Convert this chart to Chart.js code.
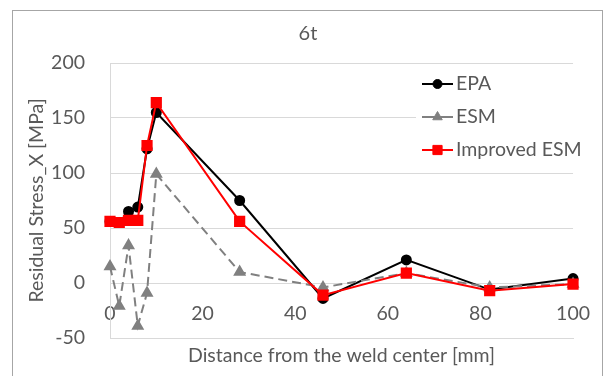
<!DOCTYPE html>
<html>
<head>
<meta charset="utf-8">
<script src="https://cdn.jsdelivr.net/npm/chart.js@4.4.1/dist/chart.umd.min.js"></script>
<style>
  html, body { margin: 0; padding: 0; background: #fff; }
  canvas { display: block; }
</style>
</head>
<body>
<canvas id="stressChart" width="603" height="376"></canvas>
<script>
// Data
const distances = [0, 2, 4, 6, 8, 10, 28, 46, 64, 82, 100];
const epaValues = [56, 55, 65, 69, 122, 155, 75, -14, 21, -6, 4];
const esmValues = [15, -21, 34, -39, -9, 99, 10, -4, 9, -4, -1];
const improvedValues = [56, 55, 57, 57, 125, 164, 56, -11, 9, -7, -1];
const seriesNames = ['EPA', 'ESM', 'Improved ESM'];
const xTicks = [0, 20, 40, 60, 80, 100];
const yTicks = [-50, 0, 50, 100, 150, 200];

const TEXT = '#595959';
const GRID = '#d9d9d9';
const FONT_SIZE = 19.5;

Chart.defaults.font.family = 'Lato';
Chart.defaults.color = TEXT;

function toPoints(values) {
    return values.map((v, i) => ({ x: distances[i], y: v }));
}

// Outer frame of the chart
const framePlugin = {
    id: 'frame',
    beforeDraw(chart) {
        const ctx = chart.ctx;
        ctx.save();
        ctx.fillStyle = '#fff';
        ctx.fillRect(0, 0, chart.width, chart.height);
        ctx.strokeStyle = '#a6a6a6';
        ctx.lineWidth = 1;
        ctx.strokeRect(12.5, 10.5, 590, 400);
        ctx.restore();
    }
};

// Legend drawn inside the plot area, like Excel does
const legendPlugin = {
    id: 'insideLegend',
    afterDatasetsDraw(chart) {
        const ctx = chart.ctx;
        ctx.save();
        ctx.fillStyle = '#fff';
        ctx.fillRect(416, 66, 159, 103);
        chart.data.datasets.forEach((ds, i) => {
            const y = 84 + i * 33;
            ctx.setLineDash([]);
            ctx.strokeStyle = ds.borderColor;
            ctx.lineWidth = ds.borderWidth;
            ctx.beginPath();
            ctx.moveTo(422, y);
            ctx.lineTo(453, y);
            ctx.stroke();
            ctx.fillStyle = ds.pointBackgroundColor;
            ctx.strokeStyle = ds.pointBorderColor;
            ctx.lineWidth = 1;
            Chart.helpers.drawPoint(ctx, {
                pointStyle: ds.pointStyle,
                radius: ds.pointRadius,
                rotation: 0,
                borderWidth: 1
            }, 437.5, y);
            ctx.fillStyle = TEXT;
            ctx.font = FONT_SIZE + 'px Lato';
            ctx.textAlign = 'left';
            ctx.textBaseline = 'middle';
            ctx.fillText(ds.label, 456, y);
        });
        ctx.restore();
    }
};

new Chart(document.getElementById('stressChart'), {
    type: 'line',
    data: {
        datasets: [
            {
                label: seriesNames[0],
                data: toPoints(epaValues),
                borderColor: '#000000',
                backgroundColor: '#000000',
                pointBackgroundColor: '#000000',
                pointBorderColor: '#000000',
                borderWidth: 2,
                pointStyle: 'circle',
                pointRadius: 4.5,
                order: 3,
                clip: false
            },
            {
                label: seriesNames[1],
                data: toPoints(esmValues),
                borderColor: '#808080',
                backgroundColor: '#808080',
                pointBackgroundColor: '#808080',
                pointBorderColor: '#808080',
                borderWidth: 2,
                borderDash: [9, 5],
                pointStyle: 'triangle',
                pointRadius: 5.5,
                order: 2,
                clip: false
            },
            {
                label: seriesNames[2],
                data: toPoints(improvedValues),
                borderColor: '#ff0000',
                backgroundColor: '#ff0000',
                pointBackgroundColor: '#ff0000',
                pointBorderColor: '#ff0000',
                borderWidth: 2,
                pointStyle: 'rect',
                pointRadius: 6.5,
                order: 1,
                clip: false
            }
        ]
    },
    options: {
        responsive: false,
        animation: false,
        devicePixelRatio: 1,
        layout: { padding: { left: 13, top: 11, right: 0, bottom: 0 } },
        plugins: {
            legend: { display: false },
            tooltip: { enabled: false },
            title: {
                display: true,
                text: '6t',
                color: TEXT,
                font: { size: 20, weight: 'normal' },
                padding: { top: 11, bottom: 17 }
            }
        },
        scales: {
            x: {
                type: 'linear',
                min: 0,
                max: 100,
                afterBuildTicks: scale => { scale.ticks = xTicks.map(v => ({ value: v })); },
                afterFit: scale => { scale.height = 38; },
                grid: { display: false, drawTicks: false },
                border: { display: true, color: GRID, width: 1 },
                // labels sit above the bottom edge, next to the zero line
                ticks: { autoSkip: false, maxRotation: 0, mirror: true, padding: 13, font: { size: FONT_SIZE }, color: TEXT },
                title: {
                    display: true,
                    text: 'Distance from the weld center [mm]',
                    color: TEXT,
                    font: { size: FONT_SIZE },
                    padding: { top: 0, bottom: 9 }
                }
            },
            y: {
                type: 'linear',
                position: 'left',
                min: -50,
                max: 200,
                afterBuildTicks: scale => { scale.ticks = yTicks.map(v => ({ value: v })); },
                afterFit: scale => { scale.width = 97; },
                grid: { color: GRID, lineWidth: 1, drawTicks: false },
                border: { display: true, color: GRID, width: 1 },
                ticks: { padding: 25, font: { size: FONT_SIZE }, color: TEXT },
                title: {
                    display: true,
                    text: 'Residual Stress_X [MPa]',
                    color: TEXT,
                    font: { size: FONT_SIZE },
                    padding: { top: 12, bottom: 0 }
                }
            },
            spacer: {
                type: 'linear',
                axis: 'y',
                position: 'right',
                display: true,
                afterFit: scale => { scale.width = 28; },
                grid: { display: false, drawTicks: false },
                border: { display: false },
                ticks: { display: false }
            }
        }
    },
    plugins: [framePlugin, legendPlugin]
});
</script>
</body>
</html>
